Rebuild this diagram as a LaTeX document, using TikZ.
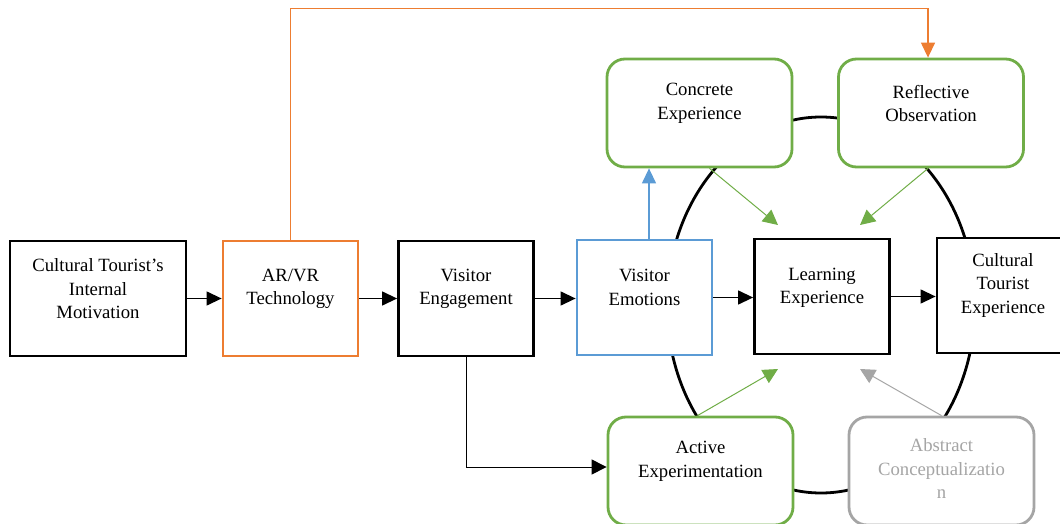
\documentclass[tikz,border=0pt]{standalone}
\usepackage{fontspec}
\setmainfont{Liberation Serif}
\usetikzlibrary{arrows.meta}

\definecolor{orng}{HTML}{ED7D31}
\definecolor{blu}{HTML}{5B9BD5}
\definecolor{grn}{HTML}{70AD47}
\definecolor{gry}{HTML}{A5A5A5}

\begin{document}
\begin{tikzpicture}[x=1pt, y=-1pt, font=\fontsize{18.7}{23.5}\selectfont,
  box/.style={draw, line width=2.8pt, fill=white, minimum width=135pt, minimum height=115pt, inner sep=0pt},
  stage/.style={draw=grn, line width=2.8pt, fill=white, rounded corners=18pt, minimum width=185pt, minimum height=108pt, inner sep=0pt},
  txt/.style={align=center, inner sep=0pt},
  link/.style={line width=1.3pt, -{Triangle[length=15pt, width=14pt]}},
  thinlink/.style={line width=1pt, -{Triangle[length=15pt, width=15pt]}}]
\useasboundingbox (0,0) rectangle (1060,524);

% learning cycle
\draw[line width=2.8pt] (821,305) ellipse [x radius=154, y radius=188];

\node[box, minimum width=176pt] (motiv) at (98,298.5) {};
\node[box, draw=orng] (arvr) at (290.5,298.5) {};
\node[box] (engage) at (466,298.5) {};
\node[box, draw=blu] (emotion) at (644.5,297.5) {};
\node[box] (learn) at (822,296.5) {};
\node[box, minimum width=125pt] (cte) at (999.5,295.5) {};

\node[stage] (concrete) at (699.5,113) {};
\node[stage] (reflect) at (931,113) {};
\node[stage] (active) at (700.5,471) {};
\node[stage, draw=gry] (abstract) at (941.5,471) {};

\node[txt] (motiv-t) at (98,289) {Cultural Tourist’s\\Internal\\Motivation};
\node[txt] (arvr-t) at (290.5,289) {AR/VR\\Technology};
\node[txt] (engage-t) at (466,289) {Visitor\\Engagement};
\node[txt] (emotion-t) at (644.5,287.5) {Visitor\\Emotions};
\node[txt] (learn-t) at (822,288) {Learning\\Experience};
\node[txt] (cte-t) at (1003,285.5) {Cultural\\Tourist\\Experience};
\node[txt] (concrete-t) at (699.5,103.5) {Concrete\\Experience};
\node[txt] (reflect-t) at (931,103.5) {Reflective\\Observation};
\node[txt] (active-t) at (700.5,461.5) {Active\\Experimentation};
\node[txt, text=gry] (abstract-t) at (941.5,469) {Abstract\\Conceptualizatio\\n};

\coordinate (in-ul) at (778,225);
\coordinate (in-ur) at (860,225);
\coordinate (in-ll) at (778,369);
\coordinate (in-lr) at (860,369);

\draw[link] (motiv.east) -- (arvr.west);
\draw[link] (arvr.east) -- (engage.west);
\draw[link] (engage.east) -- (engage.east -| emotion.west);
\draw[link] (emotion.east) -- (emotion.east -| learn.west);
\draw[link] (learn.east) -- (learn.east -| cte.west);
\draw[thinlink] (engage.south) |- ([yshift=4pt]active.west);

\draw[link, orng] (arvr.north) -- ++(0,-231) -| ([xshift=-3pt]reflect.north);
\draw[link, blu] ([xshift=4.5pt]emotion.north) -- ([xshift=4.5pt]emotion.north |- concrete.south);

\draw[thinlink, grn] ([xshift=10pt]concrete.south) -- (in-ul);
\draw[thinlink, grn] ([xshift=-3pt]reflect.south) -- (in-ur);
\draw[thinlink, grn] ([xshift=-3pt]active.north) -- (in-ll);
\draw[thinlink, gry] (abstract.north) -- (in-lr);

\end{tikzpicture}
\end{document}
